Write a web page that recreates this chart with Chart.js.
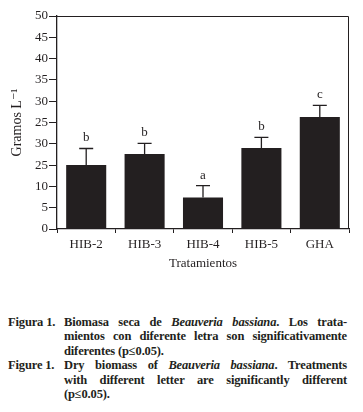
<!DOCTYPE html>
<html>
<head>
<meta charset="utf-8">
<script src="https://cdn.jsdelivr.net/npm/chart.js@4"></script>
<style>
  body { margin: 0; background: #fff; width: 363px; height: 412px; overflow: hidden; }
  #wrap { position: relative; width: 363px; height: 290px; }
  .cap { margin: 25px 16px 0 8px; font-family: "Liberation Serif", serif; font-weight: bold; font-size: 12.5px; letter-spacing: -0.15px; line-height: 14.4px; color: #231f20; }
  .row { display: flex; }
  .lab { width: 56px; flex: none; white-space: nowrap; }
  .txt { flex: 1; }
  .j { text-align: justify; text-align-last: justify; white-space: nowrap; }
</style>
</head>
<body>
<div id="wrap"><canvas id="chart"></canvas></div>
<div class="cap">
  <div class="row"><span class="lab">Figura 1.</span><div class="txt">
    <div class="j">Biomasa seca de <i>Beauveria bassiana</i>. Los trata-</div>
    <div class="j">mientos con diferente letra son significativamente</div>
    <div>diferentes (p≤0.05).</div>
  </div></div>
  <div class="row"><span class="lab">Figure 1.</span><div class="txt">
    <div class="j">Dry biomass of <i>Beauveria bassiana</i>. Treatments</div>
    <div class="j">with different letter are significantly different</div>
    <div>(p≤0.05).</div>
  </div></div>
</div>
<script>
const treatments = ['HIB-2', 'HIB-3', 'HIB-4', 'HIB-5', 'GHA'];
const biomass = [15.0, 17.6, 7.4, 19.0, 26.3];
const errors = [3.9, 2.5, 2.8, 2.5, 2.7];
const letters = ['b', 'b', 'a', 'b', 'c'];
// tick labels as printed in the figure (15 and 20 are labelled 25 and 30)
const yTickLabels = ['0', '5', '10', '25', '30', '25', '30', '35', '40', '45', '50'];

const ink = '#231f20';
const serif = '"Liberation Serif", "DejaVu Serif", serif';

// error bars, significance letters and the frame round the plot
const extras = {
  id: 'extras',
  afterDatasetsDraw(chart) {
    const { ctx, chartArea, scales: { y } } = chart;
    const meta = chart.getDatasetMeta(0);
    ctx.save();
    ctx.strokeStyle = ink;
    ctx.fillStyle = ink;
    ctx.lineWidth = 1.3;
    ctx.font = '13px ' + serif;
    ctx.textAlign = 'center';
    ctx.textBaseline = 'alphabetic';
    meta.data.forEach((bar, i) => {
      const top = y.getPixelForValue(biomass[i] + errors[i]);
      ctx.beginPath();
      ctx.moveTo(bar.x, bar.y);
      ctx.lineTo(bar.x, top);
      ctx.moveTo(bar.x - 7, top);
      ctx.lineTo(bar.x + 7, top);
      ctx.stroke();
      ctx.fillText(letters[i], bar.x, top - 7);
    });
    ctx.lineWidth = 1;
    ctx.beginPath();
    ctx.moveTo(chartArea.left, chartArea.top + 0.5);
    ctx.lineTo(chartArea.right - 0.5, chartArea.top + 0.5);
    ctx.lineTo(chartArea.right - 0.5, chartArea.bottom);
    ctx.stroke();
    ctx.restore();
  }
};

new Chart(document.getElementById('chart'), {
  type: 'bar',
  data: {
    labels: treatments,
    datasets: [{
      data: biomass,
      backgroundColor: ink,
      borderWidth: 0,
      barPercentage: 0.686,
      categoryPercentage: 1
    }]
  },
  options: {
    responsive: true,
    maintainAspectRatio: false,
    animation: false,
    layout: { padding: { left: 0, top: 16, right: 14, bottom: 15 } },
    plugins: { legend: { display: false }, tooltip: { enabled: false } },
    scales: {
      x: {
        grid: { display: true, offset: true, drawOnChartArea: false, drawTicks: true, tickLength: 4, color: ink },
        border: { display: true, color: ink, width: 1.3 },
        ticks: { color: ink, font: { family: serif, size: 13 }, padding: 4 },
        title: { display: true, text: 'Tratamientos', color: ink, font: { family: serif, size: 13 }, padding: { top: 2, bottom: 4 } },
        afterFit(scale) { scale.height = 46; }
      },
      y: {
        min: 0,
        max: 50,
        ticks: {
          stepSize: 5,
          color: ink,
          font: { family: serif, size: 13 },
          padding: 1,
          callback: (v, i) => yTickLabels[i]
        },
        grid: { display: true, drawOnChartArea: false, drawTicks: true, tickLength: 8, color: ink },
        border: { display: true, color: ink, width: 1.3 },
        title: { display: true, text: 'Gramos L⁻¹', color: ink, font: { family: serif, size: 14 }, padding: { top: 9, bottom: 2 } },
        afterFit(scale) { scale.width = 57; }
      }
    }
  },
  plugins: [extras]
});
</script>
</body>
</html>
